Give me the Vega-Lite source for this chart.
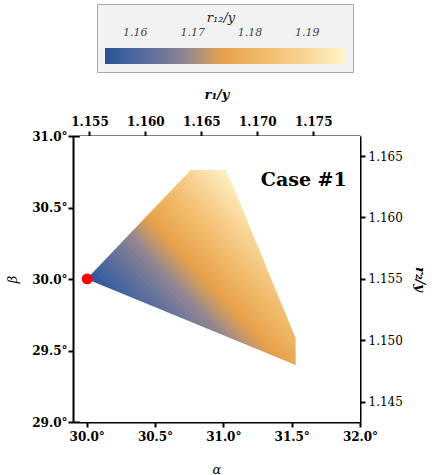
{
"$schema":"https://vega.github.io/schema/vega-lite/v6.json",
"width":287,"height":286,
"autosize":{"type":"none"},
"padding":{"left":73,"top":136,"right":76,"bottom":53},
"background":"white",
"config":{
 "view":{"stroke":null},
 "axis":{"grid":false,"domainColor":"#000","domainWidth":2,"tickColor":"#000","tickWidth":2,"tickSize":5,"labelFont":"DejaVu Serif","labelFontSize":12,"labelFontWeight":"bold","labelColor":"#000","labelFlush":false,"labelOverlap":false,"titleFont":"DejaVu Serif","titleColor":"#000","zindex":1}
},
"datasets":{
 "bands":[
{"band":"b00","alpha":30,"beta":29.9782,"beta2":30.0655,"r12":1.1547},{"band":"b00","alpha":31.55,"beta":28.3740,"beta2":28.4614,"r12":1.1547},
{"band":"b01","alpha":30,"beta":30.0218,"beta2":30.1092,"r12":1.1557},{"band":"b01","alpha":31.55,"beta":28.4177,"beta2":28.5050,"r12":1.1557},
{"band":"b02","alpha":30,"beta":30.0655,"beta2":30.1528,"r12":1.1567},{"band":"b02","alpha":31.55,"beta":28.4614,"beta2":28.5487,"r12":1.1567},
{"band":"b03","alpha":30,"beta":30.1092,"beta2":30.1965,"r12":1.1577},{"band":"b03","alpha":31.55,"beta":28.5050,"beta2":28.5924,"r12":1.1577},
{"band":"b04","alpha":30,"beta":30.1528,"beta2":30.2402,"r12":1.1587},{"band":"b04","alpha":31.55,"beta":28.5487,"beta2":28.6360,"r12":1.1587},
{"band":"b05","alpha":30,"beta":30.1965,"beta2":30.2838,"r12":1.1597},{"band":"b05","alpha":31.55,"beta":28.5924,"beta2":28.6797,"r12":1.1597},
{"band":"b06","alpha":30,"beta":30.2402,"beta2":30.3275,"r12":1.1607},{"band":"b06","alpha":31.55,"beta":28.6360,"beta2":28.7234,"r12":1.1607},
{"band":"b07","alpha":30,"beta":30.2838,"beta2":30.3712,"r12":1.1617},{"band":"b07","alpha":31.55,"beta":28.6797,"beta2":28.7670,"r12":1.1617},
{"band":"b08","alpha":30,"beta":30.3275,"beta2":30.4149,"r12":1.1627},{"band":"b08","alpha":31.55,"beta":28.7234,"beta2":28.8107,"r12":1.1627},
{"band":"b09","alpha":30,"beta":30.3712,"beta2":30.4585,"r12":1.1637},{"band":"b09","alpha":31.55,"beta":28.7670,"beta2":28.8544,"r12":1.1637},
{"band":"b10","alpha":30,"beta":30.4149,"beta2":30.5022,"r12":1.1647},{"band":"b10","alpha":31.55,"beta":28.8107,"beta2":28.8980,"r12":1.1647},
{"band":"b11","alpha":30,"beta":30.4585,"beta2":30.5459,"r12":1.1657},{"band":"b11","alpha":31.55,"beta":28.8544,"beta2":28.9417,"r12":1.1657},
{"band":"b12","alpha":30,"beta":30.5022,"beta2":30.5895,"r12":1.1667},{"band":"b12","alpha":31.55,"beta":28.8980,"beta2":28.9854,"r12":1.1667},
{"band":"b13","alpha":30,"beta":30.5459,"beta2":30.6114,"r12":1.1677},{"band":"b13","alpha":31.55,"beta":28.9417,"beta2":29.0072,"r12":1.1677},
{"band":"b14","alpha":30,"beta":30.5895,"beta2":30.6332,"r12":1.16845},{"band":"b14","alpha":31.55,"beta":28.9854,"beta2":29.0290,"r12":1.16845},
{"band":"b15","alpha":30,"beta":30.6114,"beta2":30.6550,"r12":1.16895},{"band":"b15","alpha":31.55,"beta":29.0072,"beta2":29.0509,"r12":1.16895},
{"band":"b16","alpha":30,"beta":30.6332,"beta2":30.6769,"r12":1.16945},{"band":"b16","alpha":31.55,"beta":29.0290,"beta2":29.0727,"r12":1.16945},
{"band":"b17","alpha":30,"beta":30.6550,"beta2":30.6987,"r12":1.16995},{"band":"b17","alpha":31.55,"beta":29.0509,"beta2":29.0945,"r12":1.16995},
{"band":"b18","alpha":30,"beta":30.6769,"beta2":30.7205,"r12":1.17045},{"band":"b18","alpha":31.55,"beta":29.0727,"beta2":29.1164,"r12":1.17045},
{"band":"b19","alpha":30,"beta":30.6987,"beta2":30.7424,"r12":1.17095},{"band":"b19","alpha":31.55,"beta":29.0945,"beta2":29.1382,"r12":1.17095},
{"band":"b20","alpha":30,"beta":30.7205,"beta2":30.7642,"r12":1.17145},{"band":"b20","alpha":31.55,"beta":29.1164,"beta2":29.1600,"r12":1.17145},
{"band":"b21","alpha":30,"beta":30.7424,"beta2":30.7860,"r12":1.17195},{"band":"b21","alpha":31.55,"beta":29.1382,"beta2":29.1819,"r12":1.17195},
{"band":"b22","alpha":30,"beta":30.7642,"beta2":30.8079,"r12":1.17245},{"band":"b22","alpha":31.55,"beta":29.1600,"beta2":29.2037,"r12":1.17245},
{"band":"b23","alpha":30,"beta":30.7860,"beta2":30.8297,"r12":1.17295},{"band":"b23","alpha":31.55,"beta":29.1819,"beta2":29.2255,"r12":1.17295},
{"band":"b24","alpha":30,"beta":30.8079,"beta2":30.8515,"r12":1.17345},{"band":"b24","alpha":31.55,"beta":29.2037,"beta2":29.2474,"r12":1.17345},
{"band":"b25","alpha":30,"beta":30.8297,"beta2":30.8734,"r12":1.17395},{"band":"b25","alpha":31.55,"beta":29.2255,"beta2":29.2692,"r12":1.17395},
{"band":"b26","alpha":30,"beta":30.8515,"beta2":30.8952,"r12":1.17445},{"band":"b26","alpha":31.55,"beta":29.2474,"beta2":29.2911,"r12":1.17445},
{"band":"b27","alpha":30,"beta":30.8734,"beta2":30.9170,"r12":1.17495},{"band":"b27","alpha":31.55,"beta":29.2692,"beta2":29.3129,"r12":1.17495},
{"band":"b28","alpha":30,"beta":30.8952,"beta2":30.9389,"r12":1.17545},{"band":"b28","alpha":31.55,"beta":29.2911,"beta2":29.3347,"r12":1.17545},
{"band":"b29","alpha":30,"beta":30.9170,"beta2":30.9825,"r12":1.17595},{"band":"b29","alpha":31.55,"beta":29.3129,"beta2":29.3784,"r12":1.17595},
{"band":"b30","alpha":30,"beta":30.9389,"beta2":31.0262,"r12":1.1767},{"band":"b30","alpha":31.55,"beta":29.3347,"beta2":29.4221,"r12":1.1767},
{"band":"b31","alpha":30,"beta":30.9825,"beta2":31.0699,"r12":1.1777},{"band":"b31","alpha":31.55,"beta":29.3784,"beta2":29.4657,"r12":1.1777},
{"band":"b32","alpha":30,"beta":31.0262,"beta2":31.1135,"r12":1.1787},{"band":"b32","alpha":31.55,"beta":29.4221,"beta2":29.5094,"r12":1.1787},
{"band":"b33","alpha":30,"beta":31.0699,"beta2":31.1572,"r12":1.1797},{"band":"b33","alpha":31.55,"beta":29.4657,"beta2":29.5531,"r12":1.1797},
{"band":"b34","alpha":30,"beta":31.1135,"beta2":31.2009,"r12":1.1807},{"band":"b34","alpha":31.55,"beta":29.5094,"beta2":29.5967,"r12":1.1807},
{"band":"b35","alpha":30,"beta":31.1572,"beta2":31.2445,"r12":1.1817},{"band":"b35","alpha":31.55,"beta":29.5531,"beta2":29.6404,"r12":1.1817},
{"band":"b36","alpha":30,"beta":31.2009,"beta2":31.2882,"r12":1.1827},{"band":"b36","alpha":31.55,"beta":29.5967,"beta2":29.6841,"r12":1.1827},
{"band":"b37","alpha":30,"beta":31.2445,"beta2":31.3319,"r12":1.1837},{"band":"b37","alpha":31.55,"beta":29.6404,"beta2":29.7278,"r12":1.1837},
{"band":"b38","alpha":30,"beta":31.2882,"beta2":31.3756,"r12":1.1847},{"band":"b38","alpha":31.55,"beta":29.6841,"beta2":29.7714,"r12":1.1847},
{"band":"b39","alpha":30,"beta":31.3319,"beta2":31.4192,"r12":1.1857},{"band":"b39","alpha":31.55,"beta":29.7278,"beta2":29.8151,"r12":1.1857},
{"band":"b40","alpha":30,"beta":31.3756,"beta2":31.4629,"r12":1.1867},{"band":"b40","alpha":31.55,"beta":29.7714,"beta2":29.8588,"r12":1.1867},
{"band":"b41","alpha":30,"beta":31.4192,"beta2":31.5066,"r12":1.1877},{"band":"b41","alpha":31.55,"beta":29.8151,"beta2":29.9024,"r12":1.1877},
{"band":"b42","alpha":30,"beta":31.4629,"beta2":31.5502,"r12":1.1887},{"band":"b42","alpha":31.55,"beta":29.8588,"beta2":29.9461,"r12":1.1887},
{"band":"b43","alpha":30,"beta":31.5066,"beta2":31.5939,"r12":1.1897},{"band":"b43","alpha":31.55,"beta":29.9024,"beta2":29.9898,"r12":1.1897},
{"band":"b44","alpha":30,"beta":31.5502,"beta2":31.6376,"r12":1.1907},{"band":"b44","alpha":31.55,"beta":29.9461,"beta2":30.0334,"r12":1.1907},
{"band":"b45","alpha":30,"beta":31.5939,"beta2":31.6812,"r12":1.1917},{"band":"b45","alpha":31.55,"beta":29.9898,"beta2":30.0771,"r12":1.1917},
{"band":"b46","alpha":30,"beta":31.6376,"beta2":31.7249,"r12":1.1927},{"band":"b46","alpha":31.55,"beta":30.0334,"beta2":30.1208,"r12":1.1927},
{"band":"b47","alpha":30,"beta":31.6812,"beta2":31.7686,"r12":1.1937},{"band":"b47","alpha":31.55,"beta":30.0771,"beta2":30.1645,"r12":1.1937},
{"band":"b48","alpha":30,"beta":31.7249,"beta2":31.8122,"r12":1.1947},{"band":"b48","alpha":31.55,"beta":30.1208,"beta2":30.2081,"r12":1.1947},
{"band":"b49","alpha":30,"beta":31.7686,"beta2":31.8559,"r12":1.1957},{"band":"b49","alpha":31.55,"beta":30.1645,"beta2":30.2518,"r12":1.1957},
{"band":"b50","alpha":30,"beta":31.8122,"beta2":31.9059,"r12":1.1966},{"band":"b50","alpha":31.55,"beta":30.2081,"beta2":30.3018,"r12":1.1966}
 ],
 "masks":[
{"part":"upper","alpha":29.95,"beta":30.0,"beta2":31},
{"part":"upper","alpha":30.0,"beta":30.0,"beta2":31},
{"part":"upper","alpha":30.761,"beta":30.762,"beta2":31},
{"part":"upper","alpha":31.023,"beta":30.762,"beta2":31},
{"part":"upper","alpha":31.529,"beta":29.585,"beta2":31},
{"part":"upper","alpha":31.5295,"beta":29.0,"beta2":31},
{"part":"upper","alpha":32.0,"beta":29.0,"beta2":31},
{"part":"lower","alpha":29.95,"beta":30.0,"beta2":29},
{"part":"lower","alpha":30.0,"beta":30.0,"beta2":29},
{"part":"lower","alpha":31.529,"beta":29.399,"beta2":29},
{"part":"lower","alpha":31.56,"beta":29.399,"beta2":29}
 ],
 "label":[{"alpha":31.903,"beta":30.692,"text":"Case #1"}],
 "point":[{"r1":1.1548,"r2":1.155}]
},
"layer":[
 {"layer":[
  {"data":{"name":"bands"},
   "mark":{"type":"area","clip":true,"interpolate":"linear"},
   "encoding":{
    "x":{"field":"alpha","type":"quantitative","scale":{"domain":[29.9,32],"nice":false,"zero":false},
         "axis":{"orient":"bottom","title":"α","values":[30,30.5,31,31.5,32],"labelExpr":"format(datum.value,'.1f')+'°'","labelPadding":4,"titleFontStyle":"italic","titleFontWeight":"normal","titleFontSize":13,"titlePadding":21}},
    "y":{"field":"beta","type":"quantitative","stack":null,"scale":{"domain":[29,31],"nice":false,"zero":false},
         "axis":{"orient":"left","title":"β","values":[29,29.5,30,30.5,31],"labelExpr":"format(datum.value,'.1f')+'°'","labelPadding":1,"titleFontStyle":"italic","titleFontWeight":"normal","titleFontSize":13,"titlePadding":12}},
    "y2":{"field":"beta2"},
    "detail":{"field":"band","type":"nominal"},
    "color":{"field":"r12","type":"quantitative",
      "scale":{"domain":[1.1547,1.15805,1.16518,1.16937,1.1723,1.17523,1.18194,1.1878,1.19367,1.1966],
               "range":["#2a5393","#3f62a0","#73789a","#958790","#c0966c","#e8a04a","#f0b868","#f6cd8a","#fde6b0","#fff4cb"],
               "interpolate":"rgb"},
      "legend":{"orient":"none","legendX":24,"legendY":-132,"direction":"horizontal","gradientLength":240,"gradientThickness":16,
        "title":"r₁₂/y","titleFont":"DejaVu Serif","titleFontStyle":"italic","titleFontWeight":"normal","titleFontSize":13,"titleColor":"#222","titleAnchor":"middle","titlePadding":23,
        "values":[1.16,1.17,1.18,1.19],"format":".2f","labelFont":"DejaVu Serif","labelFontStyle":"italic","labelFontSize":11,"labelColor":"#444","labelOffset":-37,
        "fillColor":"#f2f2f2","strokeColor":"#aaaaaa","padding":8}}
   }},
  {"data":{"name":"masks"},
   "mark":{"type":"area","color":"#ffffff","opacity":1,"clip":true},
   "encoding":{
    "x":{"field":"alpha","type":"quantitative"},
    "y":{"field":"beta","type":"quantitative","stack":null},
    "y2":{"field":"beta2"},
    "detail":{"field":"part","type":"nominal"}
   }},
  {"data":{"name":"label"},
   "mark":{"type":"text","align":"right","baseline":"middle","font":"DejaVu Serif","fontWeight":"bold","fontSize":19,"color":"#000"},
   "encoding":{
    "x":{"field":"alpha","type":"quantitative"},
    "y":{"field":"beta","type":"quantitative"},
    "text":{"field":"text"}
   }}
 ]},
 {"data":{"name":"point"},
  "mark":{"type":"point","shape":"circle","filled":true,"color":"#ff0000","opacity":1,"size":120},
  "encoding":{
   "x":{"field":"r1","type":"quantitative","scale":{"domain":[1.15353,1.17918],"nice":false,"zero":false},
        "axis":{"orient":"top","title":"r₁/y","values":[1.155,1.16,1.165,1.17,1.175],"format":".3f","labelPadding":3,"titleFontStyle":"italic","titleFontWeight":"bold","titleFontSize":13,"titlePadding":14}},
   "y":{"field":"r2","type":"quantitative","scale":{"domain":[1.14335,1.16663],"nice":false,"zero":false},
        "axis":{"orient":"right","title":"r₂/y","values":[1.145,1.15,1.155,1.16,1.165],"format":".3f","labelFontWeight":"normal","labelPadding":3,"titleFontStyle":"italic","titleFontWeight":"bold","titleFontSize":13,"titlePadding":10}}
  }}
],
"resolve":{"scale":{"x":"independent","y":"independent"},"axis":{"x":"independent","y":"independent"}}
}
